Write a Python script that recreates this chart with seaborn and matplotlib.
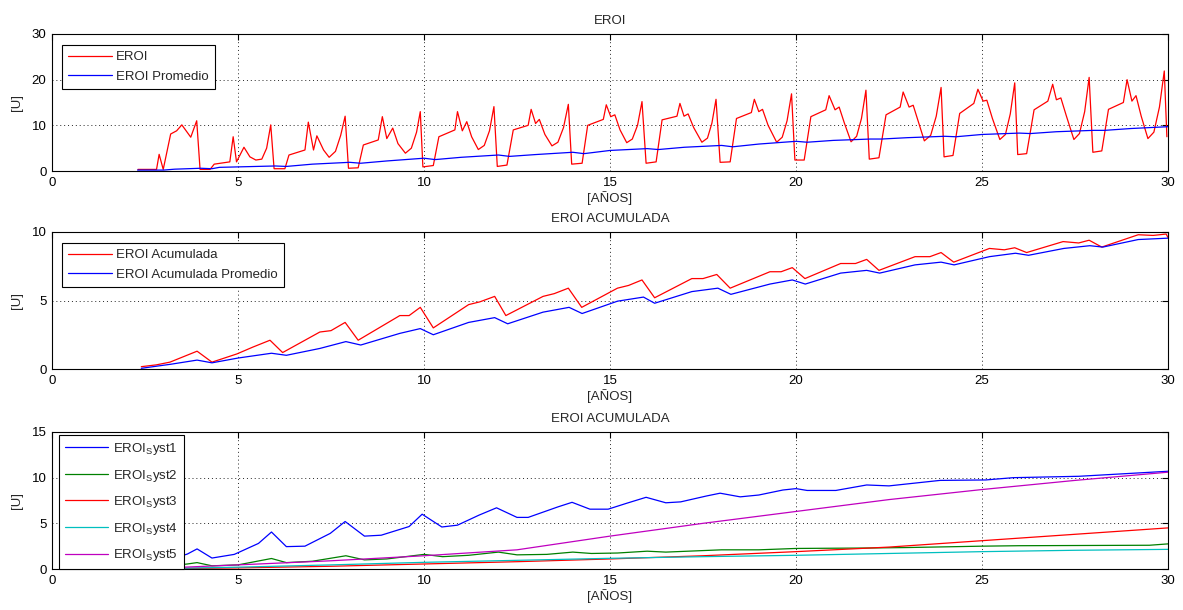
import numpy as np
import pandas as pd
import matplotlib
matplotlib.use('Agg')
import matplotlib.pyplot as plt
import seaborn as sns

# EROI (top) - vertices, one 2-year cycle per line
eroi_t = [2.31, 2.81, 2.88, 2.99, 3.19, 3.35, 3.49, 3.73, 3.89,
          3.98, 4.25, 4.36, 4.78, 4.87, 4.96, 5.16, 5.32, 5.48, 5.64, 5.77, 5.88,
          5.97, 6.26, 6.37, 6.8, 6.89, 7.03, 7.12, 7.3, 7.45, 7.62, 7.76, 7.88,
          7.97, 8.23, 8.37, 8.77, 8.88, 9.0, 9.16, 9.3, 9.5, 9.66, 9.8, 9.9,
          9.97, 10.25, 10.4, 10.83, 10.9, 11.03, 11.15, 11.28, 11.46, 11.62, 11.76, 11.88,
          11.97, 12.23, 12.4, 12.8, 12.88, 13.0, 13.1, 13.25, 13.44, 13.6, 13.75, 13.88,
          13.97, 14.25, 14.4, 14.82, 14.9, 15.02, 15.13, 15.27, 15.45, 15.6, 15.74, 15.86,
          15.97, 16.24, 16.4, 16.8, 16.88, 16.99, 17.1, 17.25, 17.47, 17.62, 17.74, 17.85,
          17.96, 18.23, 18.4, 18.8, 18.88, 19.0, 19.1, 19.25, 19.48, 19.63, 19.76, 19.88,
          19.97, 20.22, 20.4, 20.8, 20.89, 21.05, 21.16, 21.3, 21.48, 21.63, 21.76, 21.88,
          21.97, 22.23, 22.42, 22.8, 22.88, 23.04, 23.15, 23.28, 23.45, 23.62, 23.77, 23.9,
          23.98, 24.22, 24.4, 24.78, 24.89, 25.03, 25.13, 25.28, 25.48, 25.63, 25.76, 25.88,
          25.96, 26.2, 26.4, 26.77, 26.9, 27.0, 27.12, 27.27, 27.47, 27.62, 27.76, 27.88,
          27.98, 28.22, 28.4, 28.8, 28.9, 29.03, 29.14, 29.28, 29.46, 29.62, 29.77, 29.9, 29.97]
eroi_v = [0.35, 0.35, 3.65, 0.35, 8.1, 8.8, 10.1, 7.4, 11.0,
          0.35, 0.35, 1.5, 2.0, 7.5, 2.0, 5.2, 3.1, 2.4, 2.6, 5.0, 10.1,
          0.5, 0.5, 3.5, 4.6, 10.7, 4.6, 7.7, 4.6, 3.0, 4.3, 7.8, 12.0,
          0.6, 0.7, 5.7, 6.8, 11.9, 7.1, 9.4, 6.0, 3.9, 5.0, 8.5, 13.0,
          0.9, 1.2, 7.5, 9.0, 13.0, 8.8, 10.8, 7.5, 4.7, 5.6, 8.8, 14.1,
          1.0, 1.3, 9.0, 10.0, 13.5, 10.4, 11.3, 8.0, 5.5, 6.3, 9.5, 14.6,
          1.5, 1.7, 10.0, 11.3, 14.5, 11.9, 12.3, 9.0, 6.2, 7.0, 10.0, 15.2,
          1.7, 2.0, 11.2, 12.0, 14.8, 12.0, 12.5, 9.5, 6.3, 7.2, 10.5, 15.7,
          1.9, 2.0, 11.5, 12.8, 15.7, 13.0, 13.5, 10.0, 6.3, 7.4, 11.0, 16.9,
          2.4, 2.4, 11.9, 13.4, 16.5, 13.4, 14.0, 10.5, 6.4, 7.6, 11.5, 17.7,
          2.6, 2.9, 12.3, 14.0, 17.3, 14.0, 14.4, 11.0, 6.6, 7.8, 12.0, 18.3,
          3.1, 3.4, 12.6, 14.8, 17.9, 15.3, 15.5, 11.5, 6.9, 8.0, 12.5, 19.3,
          3.6, 3.8, 13.4, 15.3, 19.0, 15.6, 16.0, 12.0, 6.9, 8.2, 13.0, 20.5,
          4.1, 4.4, 13.5, 15.0, 20.0, 15.3, 16.5, 12.0, 7.1, 8.5, 14.0, 21.9, 7.5]

prom_t = [2.3, 3.0, 3.3, 4.0, 4.3, 4.5, 5.0, 6.0, 6.3, 7.0, 8.0, 8.3, 9.0, 10.0, 10.3,
          11.0, 12.0, 12.3, 13.0, 14.0, 14.3, 15.0, 16.0, 16.3, 17.0, 18.0, 18.3, 19.0,
          20.0, 20.3, 21.0, 22.0, 22.3, 23.0, 24.0, 24.3, 25.0, 26.0, 26.3, 27.0, 28.0,
          28.3, 29.0, 30.0]
prom_v = [0.2, 0.2, 0.4, 0.6, 0.5, 0.8, 0.9, 1.1, 1.0, 1.5, 1.9, 1.7, 2.2, 2.8, 2.5,
          3.0, 3.5, 3.2, 3.6, 4.1, 3.8, 4.5, 4.9, 4.7, 5.2, 5.6, 5.3, 5.9,
          6.5, 6.3, 6.7, 7.0, 7.0, 7.3, 7.6, 7.5, 8.0, 8.3, 8.2, 8.6, 8.9,
          8.9, 9.3, 9.7]

# EROI ACUMULADA (middle)
acum_t = [2.4, 2.8, 3.17, 3.9, 4.3, 4.97, 5.4, 5.86, 6.2, 7.2, 7.5, 7.88, 8.23,
          9.35, 9.6, 9.9, 10.25, 11.2, 11.5, 11.9, 12.2, 13.2, 13.5, 13.88, 14.24,
          15.2, 15.5, 15.86, 16.2, 17.2, 17.5, 17.87, 18.23, 19.3, 19.6, 19.9, 20.24,
          21.2, 21.6, 21.9, 22.23, 23.2, 23.6, 23.9, 24.24, 25.2, 25.6, 25.88, 26.2,
          27.18, 27.6, 27.88, 28.22, 29.2, 29.6, 29.95, 30.0]
acum_v = [0.17, 0.3, 0.5, 1.3, 0.5, 1.1, 1.6, 2.1, 1.2, 2.7, 2.8, 3.4, 2.1,
          3.9, 3.9, 4.5, 3.0, 4.7, 4.9, 5.3, 3.9, 5.3, 5.5, 5.9, 4.5,
          5.9, 6.1, 6.5, 5.2, 6.6, 6.6, 6.9, 5.9, 7.1, 7.1, 7.4, 6.6,
          7.7, 7.7, 8.0, 7.2, 8.2, 8.2, 8.5, 7.8, 8.8, 8.7, 8.85, 8.5,
          9.3, 9.2, 9.4, 8.9, 9.8, 9.75, 9.85, 9.6]

acprom_t = [2.4, 3.2, 3.9, 4.3, 5.0, 5.9, 6.3, 7.2, 7.9, 8.3, 9.35, 9.9, 10.25,
            11.2, 11.9, 12.25, 13.2, 13.9, 14.25, 15.2, 15.9, 16.2, 17.2, 17.9, 18.25,
            19.3, 19.9, 20.25, 21.2, 21.9, 22.25, 23.2, 23.9, 24.25, 25.2, 25.9, 26.25,
            27.2, 27.9, 28.25, 29.2, 30.0]
acprom_v = [0.05, 0.35, 0.65, 0.45, 0.8, 1.15, 1.0, 1.5, 2.0, 1.75, 2.6, 2.95, 2.5,
            3.4, 3.75, 3.3, 4.15, 4.5, 4.05, 4.95, 5.25, 4.8, 5.65, 5.9, 5.45,
            6.2, 6.5, 6.2, 7.0, 7.2, 7.0, 7.6, 7.8, 7.6, 8.2, 8.45, 8.3,
            8.8, 9.0, 8.9, 9.45, 9.55]

# EROI ACUMULADA por sistema (bottom)
s1_t = [2.4, 3.3, 3.64, 3.9, 4.3, 4.9, 5.55, 5.9, 6.3, 6.8, 7.48, 7.88, 8.4, 8.85,
        9.6, 9.95, 10.48, 10.9, 11.48, 11.95, 12.5, 12.8, 13.6, 13.98, 14.46, 14.95,
        15.45, 15.97, 16.5, 16.9, 17.6, 17.96, 18.5, 19.0, 19.65, 20.0, 20.3, 21.07,
        21.9, 22.5, 23.87, 25.1, 25.84, 27.6, 30.0]
s1_v = [0.3, 1.2, 1.64, 2.2, 1.2, 1.6, 2.8, 4.05, 2.45, 2.5, 3.9, 5.2, 3.6, 3.7,
        4.65, 6.0, 4.6, 4.8, 5.9, 6.7, 5.65, 5.65, 6.8, 7.3, 6.55, 6.55,
        7.2, 7.85, 7.25, 7.35, 8.0, 8.3, 7.9, 8.1, 8.65, 8.8, 8.6, 8.6,
        9.2, 9.1, 9.7, 9.75, 10.0, 10.15, 10.7]
s2_t = [2.4, 3.3, 3.64, 3.9, 4.3, 5.0, 5.9, 6.3, 7.0, 7.9, 8.4, 9.0, 10.0, 10.5, 11.2,
        12.0, 12.5, 13.3, 14.0, 14.5, 15.2, 16.0, 16.5, 18.0, 19.0, 20.0, 22.0, 23.0,
        25.0, 26.0, 29.5, 30.0]
s2_v = [0.1, 0.4, 0.55, 0.7, 0.35, 0.45, 1.15, 0.7, 0.85, 1.45, 1.0, 1.1, 1.6, 1.35, 1.5,
        1.85, 1.55, 1.6, 1.85, 1.7, 1.75, 1.95, 1.85, 2.1, 2.1, 2.25, 2.3, 2.35,
        2.5, 2.55, 2.6, 2.75]
s345_t = [2.4, 5.0, 7.5, 10.0, 12.5, 15.0, 17.5, 20.0, 22.5, 25.0, 27.5, 30.0]
s3_v = [0.0, 0.12, 0.3, 0.55, 0.8, 1.1, 1.45, 1.9, 2.4, 3.1, 3.8, 4.5]
s4_v = [0.0, 0.2, 0.45, 0.73, 0.95, 1.17, 1.35, 1.5, 1.7, 1.9, 2.05, 2.15]
s5_v = [0.0, 0.45, 0.9, 1.45, 2.1, 3.6, 5.0, 6.3, 7.6, 8.7, 9.7, 10.6]

sns.set_theme(style='white')
plt.rcParams['font.family'] = ['Liberation Sans', 'DejaVu Sans']
plt.rcParams['mathtext.fontset'] = 'custom'
plt.rcParams['mathtext.rm'] = 'Liberation Sans'

fig = plt.figure(figsize=(11.83, 6.10), dpi=100)
W, H = 1183, 610
axes = []
for top in [34, 232, 432]:
    axes.append(fig.add_axes([52 / W, 1 - (top + 137) / H, 1116 / W, 137 / H]))

lw = 0.9
leg_kw = dict(borderaxespad=0, handlelength=3.3, handletextpad=0.35, borderpad=0.45,
              fancybox=False, framealpha=1, edgecolor='black', fontsize=9.5)

ax = axes[0]
sns.lineplot(x=eroi_t, y=eroi_v, color='#ff0000', lw=lw, sort=False, estimator=None, ax=ax, label='EROI')
sns.lineplot(x=prom_t, y=prom_v, color='#0000ff', lw=lw, sort=False, estimator=None, ax=ax, label='EROI Promedio')
ax.set_ylim(0, 30)
ax.set_yticks([0, 10, 20, 30])
ax.set_title('EROI', fontsize=9.5, pad=7)
ax.legend(loc='upper left', bbox_to_anchor=(0.009, 0.92), labelspacing=0.58, **leg_kw)

ax = axes[1]
sns.lineplot(x=acum_t, y=acum_v, color='#ff0000', lw=lw, sort=False, estimator=None, ax=ax, label='EROI Acumulada')
sns.lineplot(x=acprom_t, y=acprom_v, color='#0000ff', lw=lw, sort=False, estimator=None, ax=ax, label='EROI Acumulada Promedio')
ax.set_ylim(0, 10)
ax.set_yticks([0, 5, 10])
ax.set_title('EROI ACUMULADA', fontsize=9.5, pad=7)
ax.legend(loc='upper left', bbox_to_anchor=(0.009, 0.92), labelspacing=0.58, **leg_kw)

ax = axes[2]
sns.lineplot(x=s1_t, y=s1_v, color='#0000ff', lw=lw, sort=False, estimator=None, ax=ax, label=r'EROI$_\mathrm{S}$yst1')
sns.lineplot(x=s2_t, y=s2_v, color='#008000', lw=lw, sort=False, estimator=None, ax=ax, label=r'EROI$_\mathrm{S}$yst2')
sns.lineplot(x=s345_t, y=s3_v, color='#ff0000', lw=lw, sort=False, estimator=None, ax=ax, label=r'EROI$_\mathrm{S}$yst3')
sns.lineplot(x=s345_t, y=s4_v, color='#00bfbf', lw=lw, sort=False, estimator=None, ax=ax, label=r'EROI$_\mathrm{S}$yst4')
sns.lineplot(x=s345_t, y=s5_v, color='#bf00bf', lw=lw, sort=False, estimator=None, ax=ax, label=r'EROI$_\mathrm{S}$yst5')
ax.set_ylim(0, 15)
ax.set_yticks([0, 5, 10, 15])
ax.set_title('EROI ACUMULADA', fontsize=9.5, pad=7)
ax.legend(loc='upper left', bbox_to_anchor=(0.006, 0.978), labelspacing=0.8, **leg_kw)

for ax in axes:
    ax.set_xlim(0, 30)
    ax.set_xticks([0, 5, 10, 15, 20, 25, 30])
    ax.set_xlabel('[AÑOS]', fontsize=9.5, labelpad=2)
    ax.set_ylabel('[U]', fontsize=9.5, labelpad=6)
    ax.grid(True, color='0.15', linestyle=(0, (1, 3)), linewidth=0.7)
    ax.tick_params(direction='in', top=True, right=True, length=4, width=0.8,
                   labelsize=9.5, colors='black', pad=4)
    for s in ax.spines.values():
        s.set_color('black')
        s.set_linewidth(0.8)
    leg = ax.get_legend()
    leg.get_frame().set_linewidth(0.8)
    for l in leg.get_lines():
        l.set_linewidth(lw)
    leg.set_zorder(5)

fig.savefig('out.png', dpi=100)
